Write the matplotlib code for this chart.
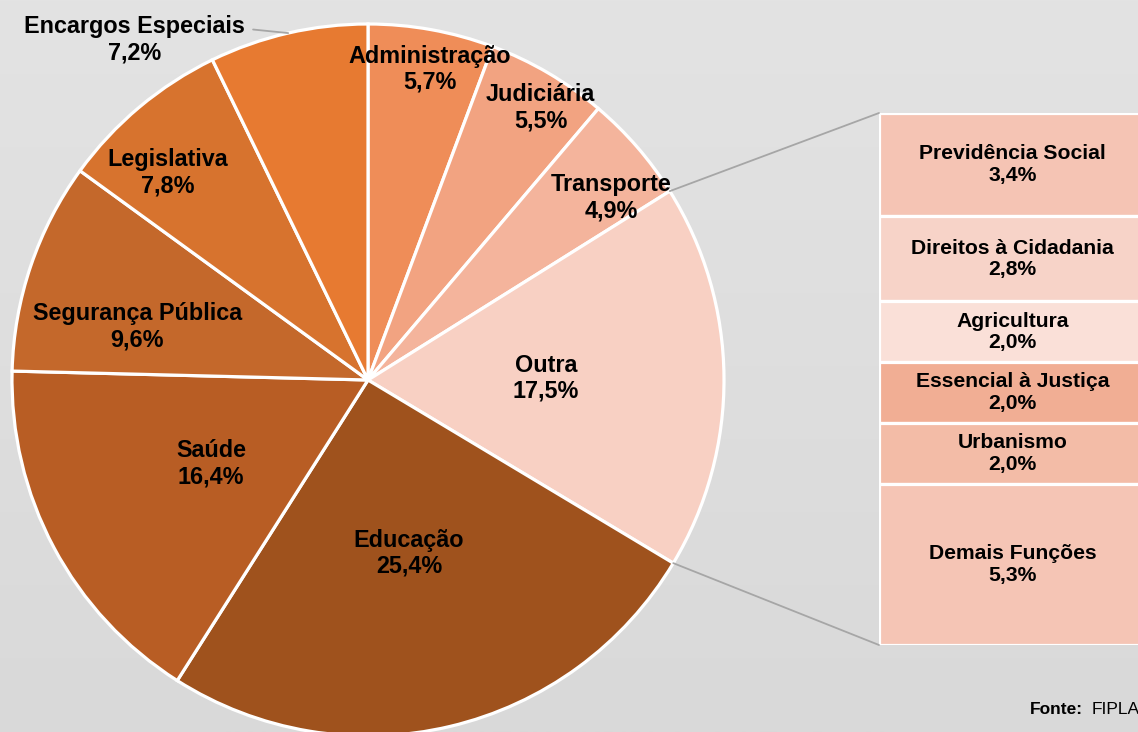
import matplotlib
matplotlib.use('Agg')
import matplotlib.pyplot as plt
from matplotlib.patches import ConnectionPatch
import numpy as np

plt.rcParams['font.family'] = ['Liberation Sans', 'DejaVu Sans']

# pie data, clockwise from the top
pie_labels = ['Administração', 'Judiciária', 'Transporte', 'Outra', 'Educação',
              'Saúde', 'Segurança Pública', 'Legislativa', 'Encargos Especiais']
pie_values = [5.7, 5.5, 4.9, 17.5, 25.4, 16.4, 9.6, 7.8, 7.2]
pie_colors = ['#ef8d58', '#f2a381', '#f4b49c', '#f8d0c3', '#9f521d',
              '#b85d24', '#c4682b', '#d7732e', '#e77a31']
# label placement: fraction of radius and angle shift (deg) from the slice middle
label_r = [0.89, 0.905, 0.855, 0.5, 0.5, 0.5, 0.665, 0.81, 1.16]
label_shift = [1, 2, 4, 0, 0, 0, -5.7, -4, -21.5]

# breakdown of "Outra"
bar_labels = ['Previdência Social', 'Direitos à Cidadania', 'Agricultura',
              'Essencial à Justiça', 'Urbanismo', 'Demais Funções']
bar_values = [3.4, 2.8, 2.0, 2.0, 2.0, 5.3]
bar_colors = ['#f5c4b4', '#f7d3c8', '#fae0d8', '#f1ae94', '#f3bca7', '#f5c5b5']

W, H = 1138, 732
fig = plt.figure(figsize=(W / 100, H / 100), dpi=100)

# gray gradient background
bg = fig.add_axes([0, 0, 1, 1])
grad = np.linspace(0, 1, 256).reshape(-1, 1)
bg.imshow(grad, aspect='auto', cmap=matplotlib.colors.LinearSegmentedColormap.from_list(
    'g', ['#e3e3e3', '#d9d9d9']), extent=[0, 1, 0, 1], zorder=0)
bg.axis('off')

# pie axes: centre (368, 380) px, radius 356 px
cx, cy, R = 368, 380, 356
lim = 1.05
half = R * lim
ax = fig.add_axes([(cx - half) / W, (H - cy - half) / H, 2 * half / W, 2 * half / H])
wedges, _ = ax.pie(pie_values, colors=pie_colors, startangle=90, counterclock=False,
                   wedgeprops=dict(edgecolor='white', linewidth=2.3))
ax.set_xlim(-lim, lim)
ax.set_ylim(-lim, lim)
ax.set_aspect('equal')
ax.axis('off')

fmt = lambda v: f'{v:.1f}'.replace('.', ',') + '%'
cum = np.cumsum([0] + pie_values)
for i, (lab, v) in enumerate(zip(pie_labels, pie_values)):
    mid = (cum[i] + cum[i + 1]) / 2 * 3.6
    a = np.radians(mid + label_shift[i])
    pos = (label_r[i] * np.sin(a), label_r[i] * np.cos(a))
    if lab == 'Encargos Especiais':
        m = np.radians(mid)
        ax.annotate(f'{lab}\n{fmt(v)}', xy=(np.sin(m), np.cos(m)), xytext=pos,
                    ha='center', va='center', fontsize=16.8, fontweight='bold',
                    linespacing=1.18, annotation_clip=False,
                    arrowprops=dict(arrowstyle='-', color='#a6a6a6', lw=1.3,
                                    relpos=(1.0, 0.72), shrinkA=4, shrinkB=0))
    else:
        ax.text(pos[0], pos[1], f'{lab}\n{fmt(v)}', ha='center', va='center',
                fontsize=16.8, fontweight='bold', linespacing=1.18)

# stacked bar for "Outra"
bx0, bx1, by0, by1 = 879, 1146, 113, 645
bax = fig.add_axes([bx0 / W, (H - by1) / H, (bx1 - bx0) / W, (by1 - by0) / H])
bottom = 0
for lab, v, c in zip(bar_labels, bar_values, bar_colors):
    bax.bar(0.5, v, width=1, bottom=bottom, color=c, edgecolor='white', linewidth=2.3)
    bax.text(0.5, bottom + v / 2, f'{lab}\n{fmt(v)}', ha='center', va='center',
             fontsize=15.2, fontweight='bold', linespacing=1.18)
    bottom += v
bax.set_xlim(0, 1)
bax.set_ylim(sum(bar_values), 0)
bax.axis('off')

# connector lines from "Outra" slice edges to the bar
i = pie_labels.index('Outra')
for ang, yb in [(cum[i] * 3.6, 0), (cum[i + 1] * 3.6, sum(bar_values))]:
    a = np.radians(ang)
    con = ConnectionPatch(xyA=(np.sin(a), np.cos(a)), coordsA=ax.transData,
                          xyB=(0, yb), coordsB=bax.transData,
                          color='#a6a6a6', lw=1.3, zorder=0.5)
    fig.add_artist(con)

fig.text(1030 / W, 1 - 709 / H, 'Fonte:', fontsize=12.5, fontweight='bold',
         ha='left', va='center')
fig.text(1092 / W, 1 - 709 / H, 'FIPLAN', fontsize=12.5, ha='left', va='center')

fig.savefig('out.png', dpi=100)
